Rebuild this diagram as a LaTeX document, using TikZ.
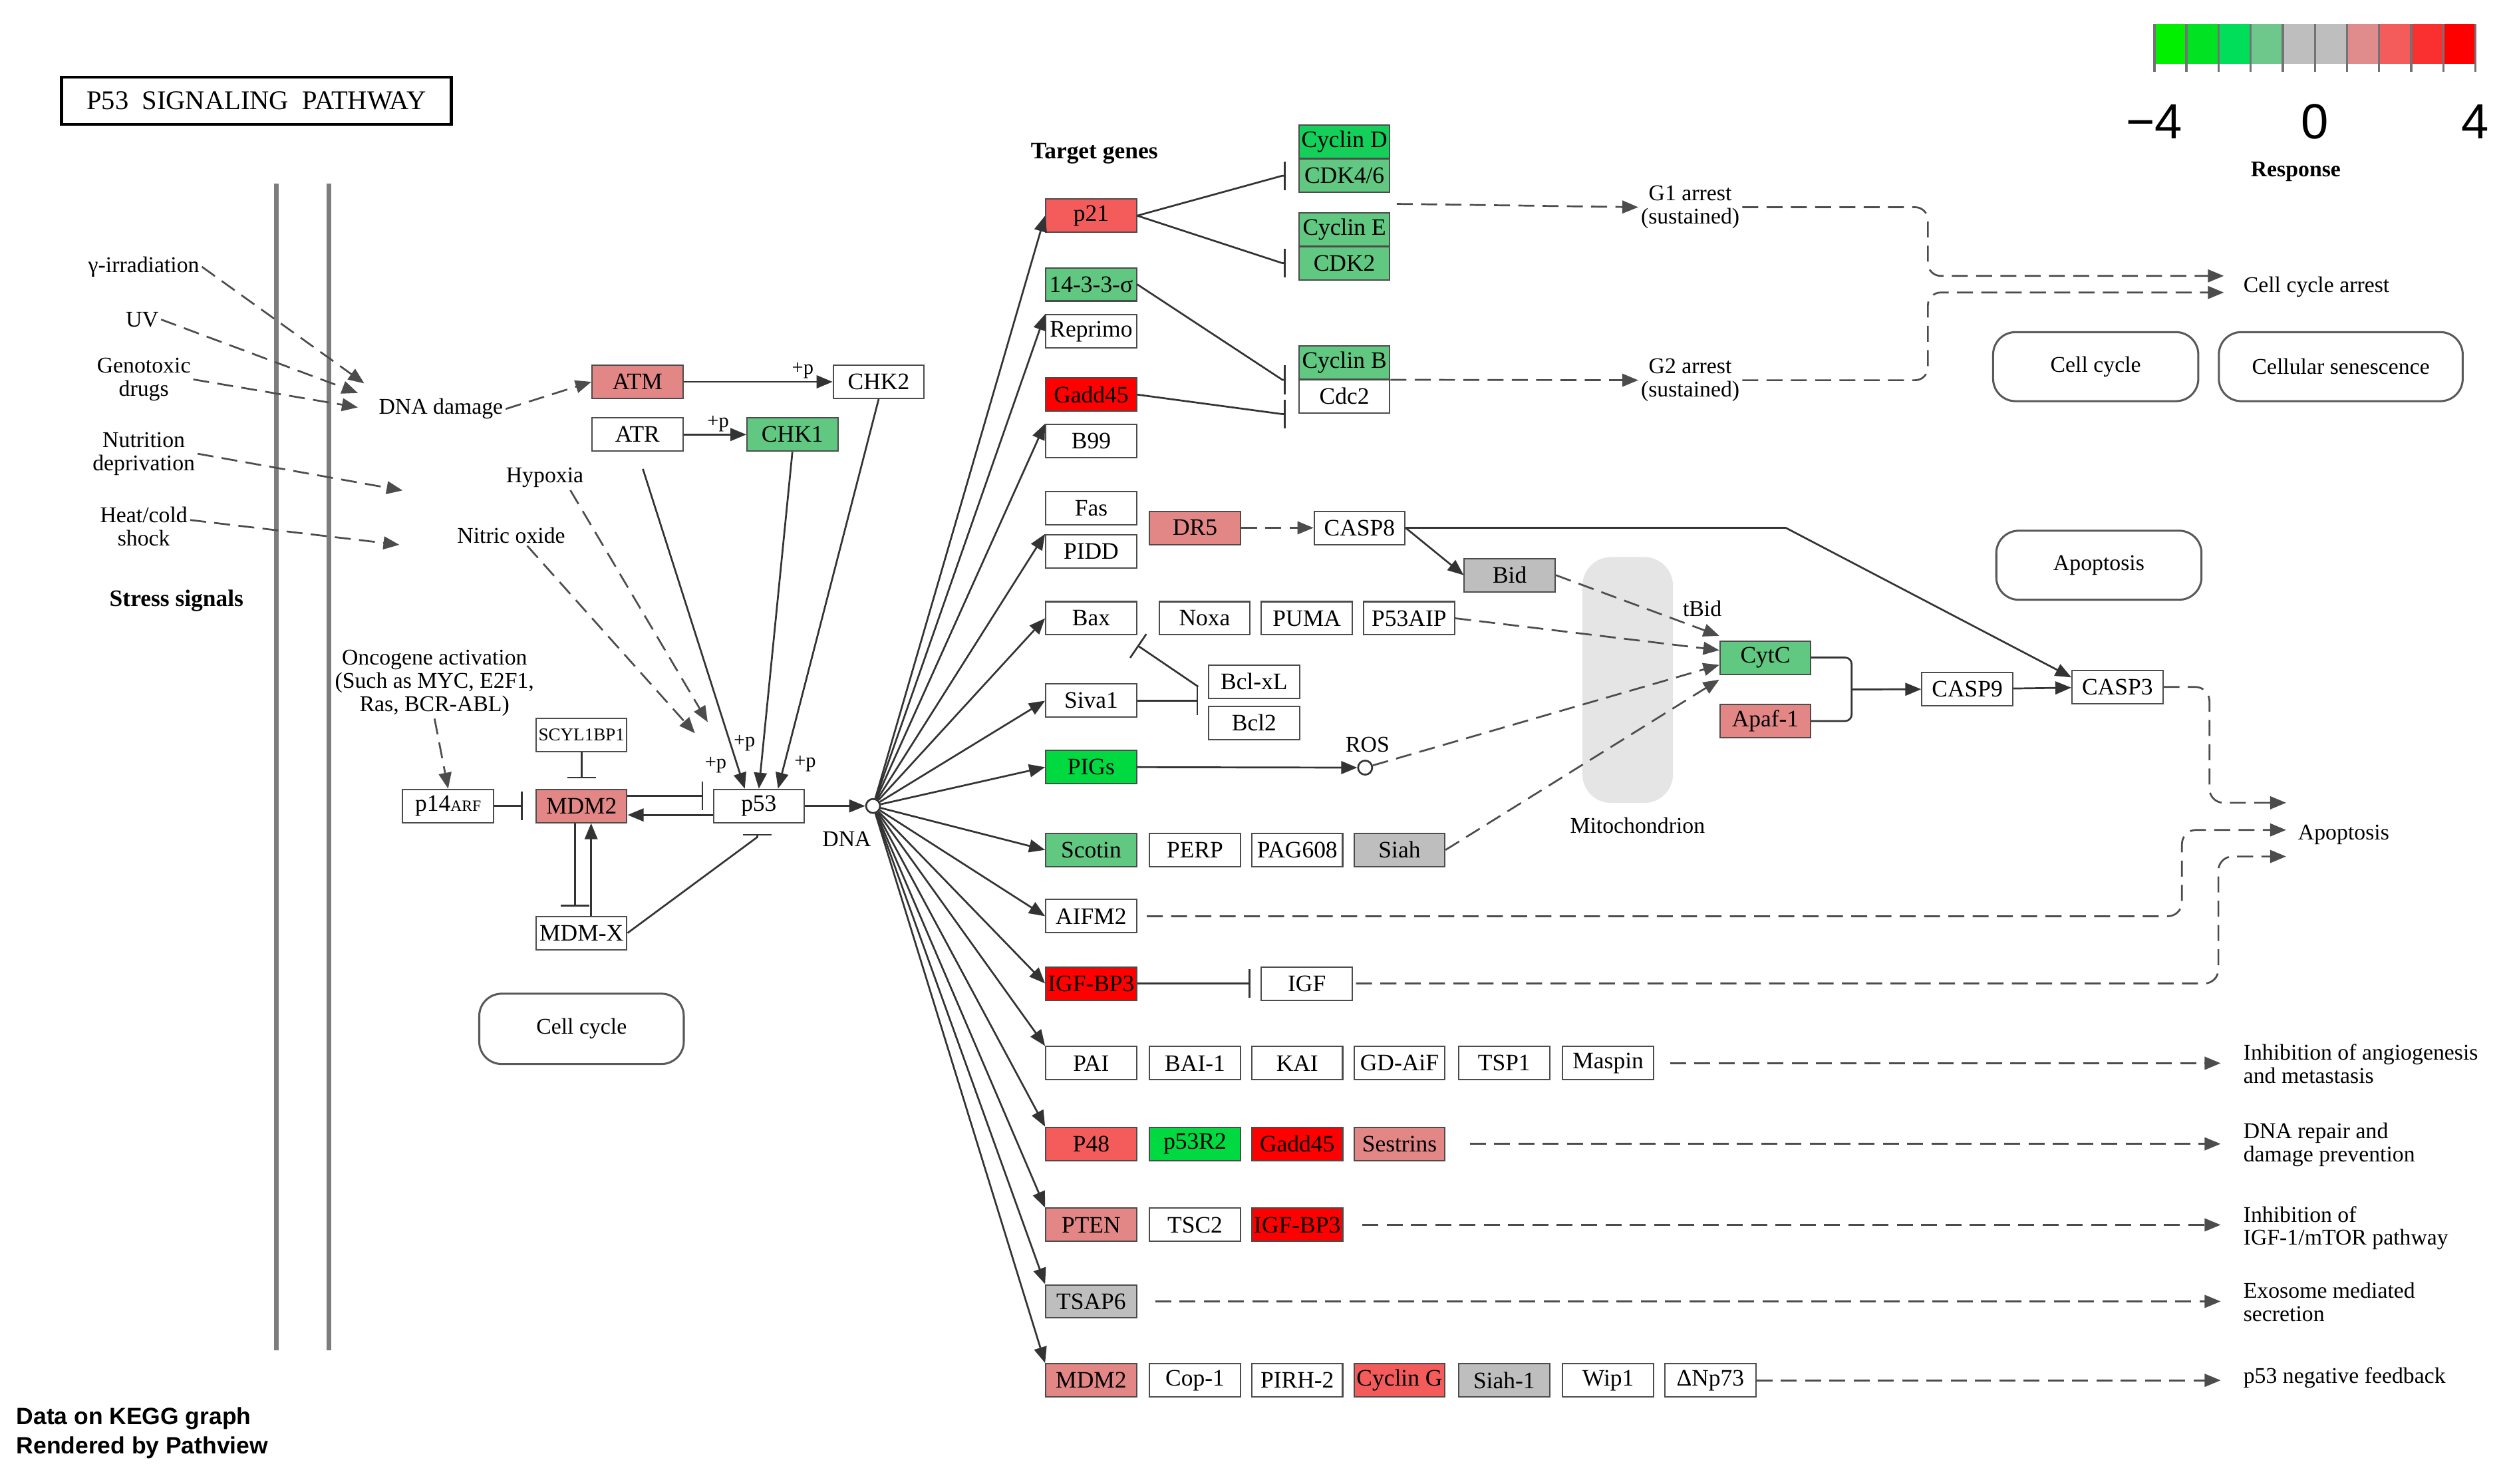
\documentclass[tikz,border=0pt]{standalone}
\usepackage{fontspec}
\setmainfont{Liberation Serif}
\newfontfamily\keyfont{Liberation Sans}
\usetikzlibrary{arrows.meta}

\definecolor{upB}{RGB}{255,0,0}
\definecolor{upM}{RGB}{244,92,92}
\definecolor{upL}{RGB}{226,134,134}
\definecolor{dnL}{RGB}{96,200,128}
\definecolor{dnM}{RGB}{20,208,90}
\definecolor{dnB}{RGB}{0,218,64}
\definecolor{nochg}{RGB}{190,190,190}
\definecolor{keyA}{RGB}{0,240,0}
\definecolor{keyB}{RGB}{0,226,34}
\definecolor{keyC}{RGB}{0,222,90}
\definecolor{keyD}{RGB}{110,200,140}
\definecolor{keyG}{RGB}{224,140,140}
\definecolor{keyI}{RGB}{250,48,48}
\definecolor{memgray}{RGB}{125,125,125}

\tikzset{
	gene/.style={draw=black!70, line width=0.6pt, minimum width=1.42cm, minimum height=0.52cm, inner sep=0pt, font=\fontsize{10.5}{10.5}\selectfont},
	map/.style={draw=black!65, line width=0.9pt, rounded corners=0.35cm, minimum height=1.08cm, font=\fontsize{10}{10}\selectfont},
	lbl/.style={align=center, inner sep=1pt, font=\fontsize{10}{10.3}\selectfont},
	plabel/.style={inner sep=1pt, font=\fontsize{9}{9}\selectfont},
	outcome/.style={align=left, anchor=west, inner xsep=0.35cm, inner ysep=1pt, font=\fontsize{10}{10.3}\selectfont},
	conn/.style={draw=black!80, line width=0.8pt},
	act/.style={conn, -{Triangle[length=0.25cm,width=0.2cm]}},
	indirect/.style={act, draw=black!70, dash pattern=on 0.25cm off 0.13cm},
	inhib/.style={conn, -{Bar[width=0.45cm]}},
	membrane/.style={draw=memgray, line width=2pt}
}

\begin{document}
\begin{tikzpicture}[x=0.025cm,y=-0.025cm]
	\useasboundingbox (0,0) rectangle (1568,928.5);
	\fill[white] (0,0) rectangle (1568,928.5);

	% title and membrane
	\node[draw, line width=1.3pt, minimum width=6.1cm, minimum height=0.74cm, font=\fontsize{12}{12}\selectfont] (title) at (160.5,63) {P53\ \ SIGNALING\ \ PATHWAY};
	\draw[membrane] (173,115) -- (173,845);
	\draw[membrane] (206,115) -- (206,845);

	% stress signals
	\node[lbl] (gamma) at (90,167) {γ-irradiation};
	\node[lbl] (uv) at (89,200) {UV};
	\node[lbl] (geno) at (90,237.5) {Genotoxic\\drugs};
	\node[lbl] (nutr) at (90,284) {Nutrition\\deprivation};
	\node[lbl] (heat) at (90,329.5) {Heat/cold\\shock};
	\node[lbl, font=\bfseries\fontsize{10.5}{10.5}\selectfont] (stress) at (110.5,376) {Stress signals};
	\coordinate (hit1) at (228,240);
	\coordinate (hit2) at (224,246);
	\coordinate (hit3) at (224,255);
	\coordinate (hit4) at (252,307);
	\coordinate (hit5) at (250,341);
	\draw[indirect] (gamma.east) -- (hit1);
	\draw[indirect] (uv.east) -- (hit2);
	\draw[indirect] (geno.east) -- (hit3);
	\draw[indirect] (nutr.east) -- (hit4);
	\draw[indirect] ([yshift=0.1cm]heat.east) -- (hit5);
	\node[lbl] (dmg) at (276,256) {DNA damage};

	% kinases
	\node[gene, fill=upL] (ATM) at (399,239) {ATM};
	\node[gene] (ATR) at (399,272) {ATR};
	\node[gene, fill=dnL] (CHK1) at (496,272) {CHK1};
	\node[gene] (CHK2) at (550,239) {CHK2};
	\draw[indirect] (dmg.east) -- (ATM.west);
	\draw[act] (ATM) -- node[pos=0.8, above, plabel] {+p} (CHK2);
	\draw[act] (ATR) -- node[pos=0.55, above, plabel] {+p} (CHK1);
	\node[lbl] (hypox) at (341,299) {Hypoxia};
	\node[lbl] (nitric) at (320,335) {Nitric oxide};

	% p53 core
	\node[gene] (p53) at (475,504.5) {p53};
	\node[gene, fill=upL] (MDM2) at (364,504.5) {MDM2};
	\node[gene] (p14) at (280.5,504.5) {p14{\fontsize{7}{7}\selectfont ARF}};
	\node[gene, font=\fontsize{8}{8}\selectfont] (SCYL) at (364,460) {SCYL1BP1};
	\node[gene] (MDMX) at (364,584) {MDM-X};
	\node[circle, conn, fill=white, minimum size=0.22cm, inner sep=0pt] (dna) at (546.5,504.5) {};
	\node[lbl] (dnalbl) at (530,525) {DNA};
	\node[lbl] (oncogene) at (272,427.5) {Oncogene activation\\(Such as MYC, E2F1,\\Ras, BCR-ABL)};
	\draw[indirect] (oncogene.south) -- (p14.north);
	\coordinate (hypend) at (443,452);
	\coordinate (noend) at (435,459);
	\draw[indirect] ([xshift=0.4cm]hypox.south) -- (hypend);
	\draw[indirect] ([xshift=0.25cm]nitric.south) -- (noend);
	\draw[act, shorten <=0.28cm] (ATR.south) -- ([xshift=-0.22cm]p53.north);
	\draw[act] (CHK1.south) -- (p53.north);
	\draw[act] (CHK2.south) -- ([xshift=0.3cm]p53.north);
	\node[plabel] (pa) at (448,479) {+p};
	\node[plabel] (pb) at (466,465) {+p};
	\node[plabel] (pc) at (504,478) {+p};
	\draw[inhib] ([yshift=0.155cm]MDM2.east) -- ([shift={(-0.15cm,0.155cm)}]p53.west);
	\draw[act] ([yshift=-0.14cm]p53.west) -- ([yshift=-0.14cm]MDM2.east);
	\draw[inhib] (p14.east) -- ([xshift=-0.2cm]MDM2.west);
	\draw[inhib] (SCYL.south) -- ([yshift=0.16cm]MDM2.north);
	\draw[inhib] ([xshift=-0.1cm]MDM2.south) -- ([shift={(-0.1cm,0.14cm)}]MDMX.north);
	\draw[act] ([xshift=0.15cm]MDMX.north) -- ([xshift=0.15cm]MDM2.south);
	\coordinate (p53bar) at (474,522);
	\draw[inhib] (MDMX.east) -- ([yshift=-0.05cm]p53bar) -- (p53bar);
	\draw[act] (p53.east) -- (dna);
	\node[map, minimum width=3.2cm, minimum height=1.1cm] (cyc1) at (364,644) {Cell cycle};

	% target genes
	\node[lbl, font=\bfseries\fontsize{10.5}{10.5}\selectfont] (target) at (685,96) {Target genes};
	\node[gene, fill=upM] (p21) at (683,135) {p21};
	\node[gene, fill=dnL] (s1433) at (683,178) {14-3-3-σ};
	\node[gene] (reprimo) at (683,207.5) {Reprimo};
	\node[gene, fill=upB] (gadd45) at (683,247) {Gadd45};
	\node[gene] (b99) at (683,276) {B99};
	\node[gene] (fas) at (683,318) {Fas};
	\node[gene] (pidd) at (683,345) {PIDD};
	\node[gene] (bax) at (683,387) {Bax};
	\node[gene] (noxa) at (754,387) {Noxa};
	\node[gene] (puma) at (818,387) {PUMA};
	\node[gene] (p53aip) at (882,387) {P53AIP};
	\node[gene] (siva) at (683,438.6) {Siva1};
	\node[gene] (bclxl) at (785,426.6) {Bcl-xL};
	\node[gene] (bcl2) at (785,452.5) {Bcl2};
	\node[gene, fill=dnB] (pigs) at (683,480.2) {PIGs};
	\node[gene, fill=dnL] (scotin) at (683,532) {Scotin};
	\node[gene] (perp) at (748,532) {PERP};
	\node[gene] (pag608) at (812,532) {PAG608};
	\node[gene, fill=nochg] (siah) at (876,532) {Siah};
	\node[gene] (aifm2) at (683,573.5) {AIFM2};
	\node[gene, fill=upB] (igfbp3) at (683,615.6) {IGF-BP3};
	\node[gene] (igf) at (818,615.6) {IGF};
	\node[gene] (pai) at (683,665.5) {PAI};
	\node[gene] (bai1) at (748,665.5) {BAI-1};
	\node[gene] (kai) at (812,665.5) {KAI};
	\node[gene] (gdaif) at (876,665.5) {GD-AiF};
	\node[gene] (tsp1) at (941.5,665.5) {TSP1};
	\node[gene] (maspin) at (1006.6,665.5) {Maspin};
	\node[gene, fill=upM] (p48) at (683,716) {P48};
	\node[gene, fill=dnB] (p53r2) at (748,716) {p53R2};
	\node[gene, fill=upB] (gaddb) at (812,716) {Gadd45};
	\node[gene, fill=upL] (sestrins) at (876,716) {Sestrins};
	\node[gene, fill=upL] (pten) at (683,766.7) {PTEN};
	\node[gene] (tsc2) at (748,766.7) {TSC2};
	\node[gene, fill=upB] (igfbpb) at (812,766.7) {IGF-BP3};
	\node[gene, fill=nochg] (tsap6) at (683,814.6) {TSAP6};
	\node[gene, fill=upL] (mdmb) at (683,864) {MDM2};
	\node[gene] (cop1) at (748,864) {Cop-1};
	\node[gene] (pirh2) at (812,864) {PIRH-2};
	\node[gene, fill=upM] (cycg) at (876,864) {Cyclin G};
	\node[gene, fill=nochg] (siah1) at (941.5,864) {Siah-1};
	\node[gene] (wip1) at (1006.6,864) {Wip1};
	\node[gene] (dnp73) at (1070.6,864) {ΔNp73};
	\foreach \t in {p21.west, reprimo.north west, b99.north west, pidd.north west, bax.west, siva.west, pigs.west, scotin.west, aifm2.west, igfbp3.west, pai.north west, p48.north west, pten.north west, tsap6.north west, mdmb.north west}
		\draw[act] (dna) -- (\t);

	% cell cycle branch
	\node[gene, fill=dnM] (cycd) at (841.5,88.7) {Cyclin D};
	\node[gene, fill=dnL] (cdk46) at (841.5,110) {CDK4/6};
	\node[gene, fill=dnL] (cyce) at (841.5,143.8) {Cyclin E};
	\node[gene, fill=dnL] (cdk2) at (841.5,164.7) {CDK2};
	\node[gene, fill=dnL] (cycb) at (841.5,226.9) {Cyclin B};
	\node[gene] (cdc2) at (841.5,248) {Cdc2};
	\draw[inhib] (p21.east) -- ([xshift=-0.25cm]cdk46.west) -- ([xshift=-0.2cm]cdk46.west);
	\draw[inhib] (p21.east) -- ([xshift=-0.25cm]cdk2.west) -- ([xshift=-0.2cm]cdk2.west);
	\draw[inhib] (s1433.east) -- ([xshift=-0.25cm]cycb.south west) -- ([xshift=-0.2cm]cycb.south west);
	\draw[inhib] (gadd45.east) -- ([shift={(-0.25cm,-0.28cm)}]cdc2.west) -- ([shift={(-0.2cm,-0.28cm)}]cdc2.west);
	\node[lbl] (g1) at (1058,129.7) {G1 arrest\\(sustained)};
	\node[lbl] (g2) at (1058,238) {G2 arrest\\(sustained)};
	\node[outcome, inner xsep=0.3cm] (cca) at (1392,179.5) {Cell cycle arrest};
	\draw[indirect] ([shift={(0.1cm,-0.17cm)}]cdk46.south east) -- (g1.west);
	\draw[indirect] (cycb.south east) -- (g2.west);
	\draw[indirect, rounded corners=0.2cm] (g1.east) -| ([shift={(-4.63cm,0.17cm)}]cca.west) -- ([yshift=0.17cm]cca.west);
	\draw[indirect, rounded corners=0.2cm] (g2.east) -| ([shift={(-4.63cm,-0.09cm)}]cca.west) -- ([yshift=-0.09cm]cca.west);
	\node[map, minimum width=3.21cm] (cyc2) at (1311.8,229.5) {Cell cycle};
	\node[map, minimum width=3.815cm] (senes) at (1465.2,229.5) {Cellular senescence};

	% apoptosis branch
	\fill[black!10, rounded corners=0.45cm] (990.5,348.7) rectangle (1047.2,502.6);
	\node[lbl] (mito) at (1025,516.5) {Mitochondrion};
	\node[lbl] (tbid) at (1065.5,381) {tBid};
	\node[map, minimum width=3.21cm] (apo1) at (1313.8,353.8) {Apoptosis};
	\node[gene, fill=upL] (dr5) at (748,330.4) {DR5};
	\node[gene] (casp8) at (851,330.4) {CASP8};
	\node[gene, fill=nochg] (bid) at (945,360) {Bid};
	\node[gene, fill=dnL] (cytc) at (1105,411.6) {CytC};
	\node[gene, fill=upL] (apaf1) at (1105,451.3) {Apaf-1};
	\node[gene] (casp9) at (1231.4,431.4) {CASP9};
	\node[gene] (casp3) at (1325.4,430) {CASP3};
	\node[circle, conn, fill=white, minimum size=0.22cm, inner sep=0pt] (ros) at (854.5,480.5) {};
	\node[lbl] (roslbl) at (856,466) {ROS};
	\node[outcome, inner xsep=0.18cm] (apo2) at (1431,522.5) {Apoptosis};
	\draw[indirect] (dr5) -- (casp8);
	\draw[act] (casp8.east) -- (bid.west);
	\draw[act] (casp8.east) -- ++(238,0) -- ([yshift=-0.12cm]casp3.north west);
	\coordinate (bclbar) at (750,438.6);
	\coordinate (baxbar) at (712,404);
	\draw[inhib] (siva.east) -- (bclbar);
	\draw[inhib] ([yshift=0.22cm]bclbar) -- (baxbar);
	\draw[act] (pigs.east) -- (ros);
	\draw[indirect] (bid.east) -- ([yshift=0.34cm]cytc.west);
	\draw[indirect] (p53aip.east) -- ([yshift=0.115cm]cytc.west);
	\draw[indirect] (ros) -- ([yshift=-0.115cm]cytc.west);
	\draw[indirect] (siah.east) -- ([yshift=-0.345cm]cytc.west);
	\coordinate (apojoin) at (1159,431.6);
	\draw[conn, rounded corners=0.1cm] (cytc.east) -| (apojoin) |- (apaf1.east);
	\draw[act] (apojoin) -- (casp9.west);
	\draw[act] (casp9) -- (casp3);
	\draw[inhib] (igfbp3.east) -- ([xshift=-0.16cm]igf.west);
	\draw[indirect, rounded corners=0.22cm] (casp3.east) -| ([shift={(-1.2cm,0.5cm)}]apo2.west) -- ([yshift=0.5cm]apo2.west);
	\draw[indirect, rounded corners=0.22cm] ([xshift=0.15cm]aifm2.east) -| ([shift={(-1.63cm,0.075cm)}]apo2.west) -- ([yshift=0.075cm]apo2.west);
	\draw[indirect, rounded corners=0.22cm] ([xshift=0.05cm]igf.east) -| ([shift={(-1.06cm,-0.34cm)}]apo2.west) -- ([yshift=-0.34cm]apo2.west);

	% other outcomes
	\node[outcome] (angio) at (1390,666) {Inhibition of angiogenesis\\and metastasis};
	\node[outcome] (repair) at (1390,716.6) {DNA repair and\\damage prevention};
	\node[outcome] (mtor) at (1390,768.7) {Inhibition of\\IGF-1/mTOR pathway};
	\node[outcome] (exo) at (1390,815) {Exosome mediated\\secretion};
	\node[outcome] (fb) at (1390,862.5) {p53 negative feedback};
	\draw[indirect] ([xshift=0.25cm]maspin.east) -- (angio.west |- maspin.east);
	\draw[indirect] ([xshift=0.38cm]sestrins.east) -- (repair.west |- sestrins.east);
	\draw[indirect] ([xshift=0.3cm]igfbpb.east) -- (mtor.west |- igfbpb.east);
	\draw[indirect] ([xshift=0.28cm]tsap6.east) -- (exo.west |- tsap6.east);
	\draw[indirect] (dnp73.east) -- (fb.west |- dnp73.east);

	% colour key
	\foreach \c [count=\i from 0] in {keyA,keyB,keyC,keyD,nochg,nochg,keyG,upM,keyI,upB}
		\fill[\c] (1348.5+\i*20.1,15) rectangle ++(20.1,25);
	\foreach \i in {0,...,10}
		\draw[black!55, line width=1pt] (1348.5+\i*20.1,15) -- ++(0,30);
	\node[font=\keyfont\fontsize{22}{22}\selectfont] (kmin) at (1348.5,76) {−4};
	\node[font=\keyfont\fontsize{22}{22}\selectfont] (kzero) at (1449,76) {0};
	\node[font=\keyfont\fontsize{22}{22}\selectfont] (kmax) at (1549.5,76) {4};
	\node[font=\bfseries\fontsize{10}{10}\selectfont] (resp) at (1437,107.5) {Response};

	\node[anchor=west, inner sep=0pt, font=\keyfont\bfseries\fontsize{10.5}{10.5}\selectfont] (kegg1) at (10,888) {Data on KEGG graph};
	\node[anchor=west, inner sep=0pt, font=\keyfont\bfseries\fontsize{10.5}{10.5}\selectfont] (kegg2) at (10,906) {Rendered by Pathview};
\end{tikzpicture}
\end{document}
